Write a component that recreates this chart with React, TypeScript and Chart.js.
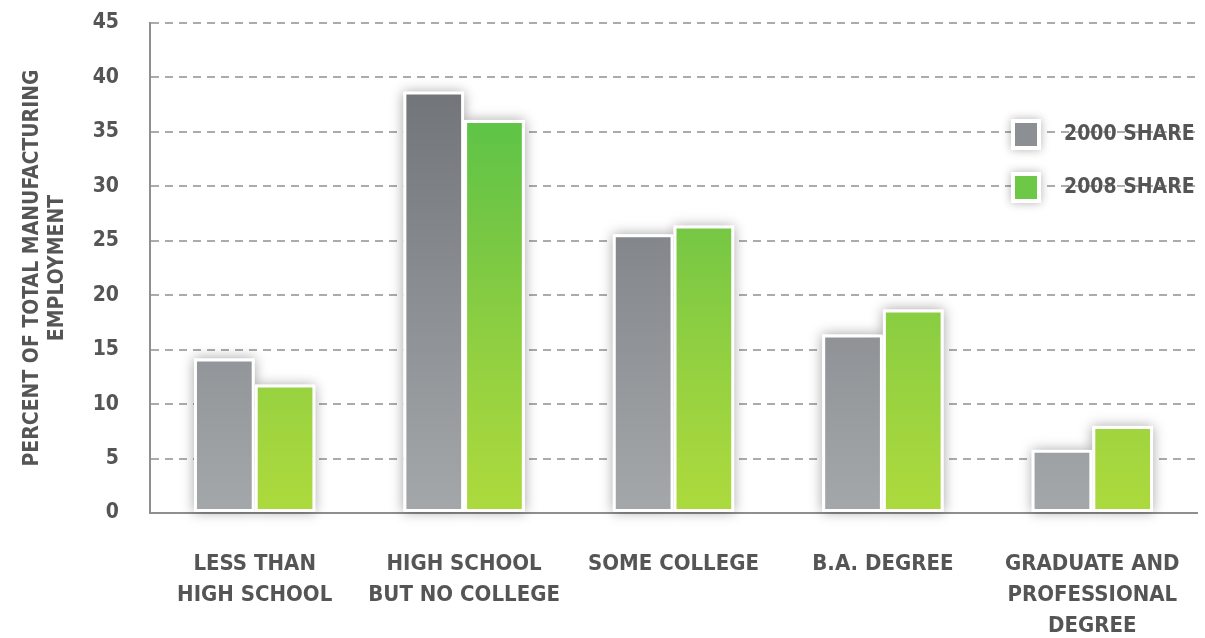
import React, { useEffect, useRef } from "react";
import { Chart, registerables } from "chart.js";

Chart.register(...registerables);

const categories: string[][] = [
  ["LESS THAN", "HIGH SCHOOL"],
  ["HIGH SCHOOL", "BUT NO COLLEGE"],
  ["SOME COLLEGE"],
  ["B.A. DEGREE"],
  ["GRADUATE AND", "PROFESSIONAL", "DEGREE"],
];
const share2000: number[] = [14.2, 38.7, 25.6, 16.4, 5.8];
const share2008: number[] = [11.8, 36.1, 26.4, 18.7, 8.0];
const seriesLabels: string[] = ["2000 SHARE", "2008 SHARE"];
const yTitle: string[] = ["PERCENT OF TOTAL MANUFACTURING", "EMPLOYMENT"];

const FONT = "'DejaVu Sans Condensed', 'DejaVu Sans', sans-serif";
const TEXT = "#555555";

function grayGrad(ctx: any) {
  const area = ctx.chart.chartArea;
  if (!area) return "#8a8d90";
  const g = ctx.chart.ctx.createLinearGradient(0, area.top, 0, area.bottom);
  g.addColorStop(0, "#696d71");
  g.addColorStop(0.5, "#878a8e");
  g.addColorStop(1, "#a5a8ab");
  return g;
}
function greenGrad(ctx: any) {
  const area = ctx.chart.chartArea;
  if (!area) return "#7cc943";
  const g = ctx.chart.ctx.createLinearGradient(0, area.top, 0, area.bottom);
  g.addColorStop(0, "#52bf49");
  g.addColorStop(0.2, "#5ec447");
  g.addColorStop(0.42, "#76c744");
  g.addColorStop(0.65, "#8fcf41");
  g.addColorStop(0.9, "#a6d73e");
  g.addColorStop(1, "#acda3d");
  return g;
}

const shadowPlugin = {
  id: "barShadow",
  beforeDatasetsDraw(chart: any) {
    const ctx = chart.ctx;
    ctx.save();
    ctx.shadowColor = "rgba(0,0,0,0.35)";
    ctx.shadowBlur = 12;
    ctx.fillStyle = "#ffffff";
    chart.data.datasets.forEach((_: any, i: number) => {
      const meta = chart.getDatasetMeta(i);
      meta.data.forEach((el: any) => {
        const { x, y, base, width } = el.getProps(["x", "y", "base", "width"], true);
        ctx.fillRect(x - width / 2, y, width, base - y);
      });
    });
    ctx.restore();
  },
};

const legendPlugin = {
  id: "customLegend",
  afterDraw(chart: any) {
    const ctx = chart.ctx;
    const colors = ["#8c8f93", "#6cc846"];
    const left = 1011;
    const tops = [119, 172];
    ctx.save();
    tops.forEach((t, i) => {
      ctx.save();
      ctx.shadowColor = "rgba(0,0,0,0.3)";
      ctx.shadowBlur = 10;
      ctx.fillStyle = "#ffffff";
      ctx.fillRect(left, t, 30, 31);
      ctx.restore();
      ctx.fillStyle = colors[i];
      ctx.fillRect(left + 4, t + 4, 22, 23);
      ctx.fillStyle = TEXT;
      ctx.font = `bold 21px ${FONT}`;
      ctx.textBaseline = "middle";
      ctx.textAlign = "left";
      ctx.fillText(seriesLabels[i], 1064, t + 16);
    });
    ctx.restore();
  },
};

export default function App() {
  const ref = useRef<HTMLCanvasElement>(null);
  useEffect(() => {
    if (!ref.current) return;
    const chart = new Chart(ref.current, {
      type: "bar",
      data: {
        labels: categories,
        datasets: [
          {
            label: seriesLabels[0],
            data: share2000,
            backgroundColor: grayGrad,
            borderColor: "#ffffff",
            borderWidth: 3,
            borderSkipped: false,
          },
          {
            label: seriesLabels[1],
            data: share2008,
            backgroundColor: greenGrad,
            borderColor: "#ffffff",
            borderWidth: 3,
            borderSkipped: false,
          },
        ],
      },
      options: {
        responsive: false,
        animation: false,
        devicePixelRatio: 1,
        layout: { padding: { left: 0, top: 23, right: 8, bottom: 0 } },
        datasets: { bar: { categoryPercentage: 0.58, barPercentage: 1.0 } },
        plugins: { legend: { display: false }, tooltip: { enabled: false } },
        scales: {
          x: {
            grid: { display: false },
            border: { display: true, color: "#8f8f8f", width: 2 },
            ticks: {
              color: TEXT,
              font: { family: FONT, size: 22, weight: "bold", lineHeight: 1.4 },
              padding: 28,
              maxRotation: 0,
              autoSkip: false,
            },
            afterFit(scale: any) {
              scale.height = 125;
              scale.paddingLeft = 0;
              scale.paddingRight = 0;
            },
          },
          y: {
            min: 0,
            max: 45,
            ticks: {
              stepSize: 5,
              color: TEXT,
              font: { family: FONT, size: 21, weight: "bold" },
              padding: 31,
            },
            grid: { color: "#ababab", lineWidth: 2, drawTicks: false },
            border: { display: true, color: "#8f8f8f", width: 2, dash: [8, 6] },
            title: {
              display: true,
              text: yTitle,
              color: TEXT,
              font: { family: FONT, size: 21, weight: "bold", lineHeight: 1.2 },
              padding: { top: 20, bottom: 0 },
            },
            afterFit(scale: any) {
              scale.width = 150;
              scale.paddingTop = 0;
              scale.paddingBottom = 0;
            },
          },
        },
      },
      plugins: [shadowPlugin, legendPlugin],
    });
    return () => chart.destroy();
  }, []);
  return (
    <div style={{ position: "fixed", left: 0, top: 0, width: 1205, height: 638, background: "#fff" }}>
      <canvas ref={ref} width={1205} height={638} style={{ display: "block" }} />
    </div>
  );
}
